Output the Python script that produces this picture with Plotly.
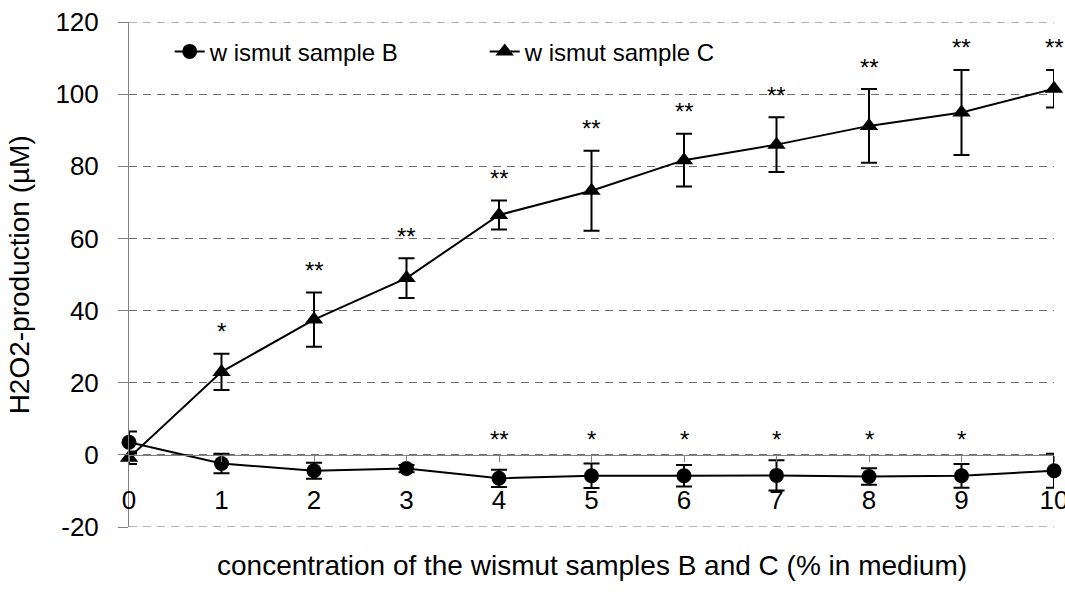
import plotly.graph_objects as go

# ---- data ----
concentration = [0, 1, 2, 3, 4, 5, 6, 7, 8, 9, 10]

sample_b_mean = [3.5, -2.4, -4.4, -3.8, -6.5, -5.8, -5.8, -5.7, -6.0, -5.8, -4.4]
sample_b_err = [3.0, 2.7, 2.2, 1.0, 2.4, 3.4, 3.0, 4.2, 2.3, 3.3, 4.7]
sample_b_stars = ["", "", "", "", "**", "*", "*", "*", "*", "*", ""]
sample_b_star_level = 5.5

sample_c_mean = [-0.8, 23.0, 37.5, 49.0, 66.5, 73.2, 81.7, 86.0, 91.2, 94.9, 101.5]
sample_c_err = [1.7, 5.0, 7.5, 5.5, 4.0, 11.1, 7.3, 7.6, 10.2, 11.8, 5.2]
sample_c_stars = ["", "*", "**", "**", "**", "**", "**", "**", "**", "**", "**"]

y_ticks = [-20, 0, 20, 40, 60, 80, 100, 120]
y_ticktext = ["-20", "0", "20", "40", "60", "80", "100", "120"]

legend_b = "w ismut sample B"
legend_c = "w ismut sample C"
x_title = "concentration of the wismut samples B and C (% in medium)"
y_title = "H2O2-production (µM)"

FONT = "Liberation Sans, Arial, sans-serif"
GRAY = "#808080"
GRID = "#6e6e6e"
DASH = "8px,6px"

fig = go.Figure()

fig.add_trace(go.Scatter(
    x=concentration, y=sample_b_mean, name=legend_b,
    mode="lines+markers",
    line=dict(color="black", width=2),
    marker=dict(symbol="circle", size=15, color="black"),
    error_y=dict(type="data", array=sample_b_err, color="black", thickness=2, width=8),
    cliponaxis=False,
))
fig.add_trace(go.Scatter(
    x=concentration, y=sample_c_mean, name=legend_c,
    mode="lines+markers",
    line=dict(color="black", width=2),
    marker=dict(symbol="triangle-up", size=16, color="black"),
    error_y=dict(type="data", array=sample_c_err, color="black", thickness=2, width=8),
    cliponaxis=False,
))

annotations = []
for xv, m, e, s in zip(concentration, sample_c_mean, sample_c_err, sample_c_stars):
    if s:
        annotations.append(dict(x=xv, y=m + e, xref="x", yref="y", text=s, showarrow=False,
                                yanchor="middle", yshift=22,
                                font=dict(family=FONT, size=24, color="black")))
for xv, s in zip(concentration, sample_b_stars):
    if s:
        annotations.append(dict(x=xv, y=sample_b_star_level, xref="x", yref="y", text=s,
                                showarrow=False, yanchor="middle", yshift=-4,
                                font=dict(family=FONT, size=24, color="black")))

annotations.append(dict(x=0.5, y=-0.077, xref="paper", yref="paper", text=x_title,
                        showarrow=False, xanchor="center", yanchor="middle",
                        font=dict(family=FONT, size=28, color="black")))
annotations.append(dict(x=-0.118, y=0.5, xref="paper", yref="paper", text=y_title,
                        showarrow=False, xanchor="center", yanchor="middle", textangle=-90,
                        font=dict(family=FONT, size=28, color="black")))

# dashed gridlines at the two ends of the value axis (plotly omits them at the edges)
shapes = [dict(type="line", xref="paper", yref="y", x0=0, x1=1, y0=v, y1=v,
               line=dict(color=GRID, width=1, dash=DASH), layer="below")
          for v in (y_ticks[0], y_ticks[-1])]

fig.update_layout(
    width=1065, height=592,
    margin=dict(l=129, r=11, t=22, b=65),
    paper_bgcolor="white", plot_bgcolor="white",
    font=dict(family=FONT, size=24, color="black"),
    showlegend=True,
    legend=dict(orientation="h", x=0.044, y=0.941, xanchor="left", yanchor="middle",
                bgcolor="rgba(0,0,0,0)", borderwidth=0,
                font=dict(family=FONT, size=24, color="black"),
                entrywidth=270, entrywidthmode="pixels"),
    annotations=annotations,
    shapes=shapes,
    xaxis=dict(range=[0, 10], tickvals=concentration, anchor="free",
               position=(0 - y_ticks[0]) / (y_ticks[-1] - y_ticks[0]),
               showline=True, linecolor=GRAY, linewidth=1,
               ticks="outside", ticklen=6, tickcolor=GRAY,
               showgrid=False, zeroline=False, automargin=False,
               ticklabeloverflow="allow",
               tickfont=dict(family=FONT, size=26, color="black"),
               ticklabelstandoff=16),
    yaxis=dict(range=[y_ticks[0], y_ticks[-1]], tickvals=y_ticks, ticktext=y_ticktext,
               showline=True, linecolor=GRAY, linewidth=1,
               ticks="outside", ticklen=10, tickcolor=GRAY,
               showgrid=True, gridcolor=GRID, gridwidth=1, griddash=DASH,
               zeroline=False, automargin=False,
               tickfont=dict(family=FONT, size=26, color="black"),
               ticklabelstandoff=14),
)

fig.write_html("out.html")
